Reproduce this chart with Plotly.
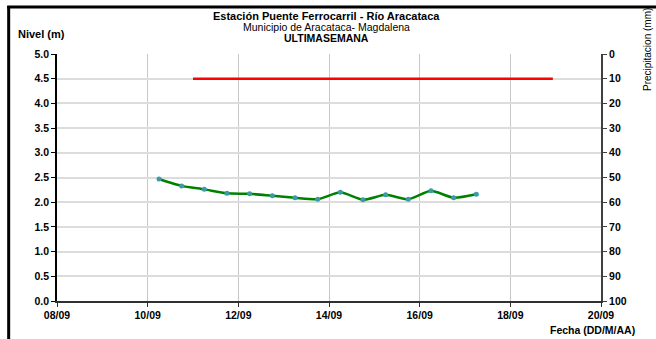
import plotly.graph_objects as go

# Nivel (m), cada 12 horas
fechas_nivel = [
    "2023-09-10 06:00", "2023-09-10 18:00", "2023-09-11 06:00", "2023-09-11 18:00",
    "2023-09-12 06:00", "2023-09-12 18:00", "2023-09-13 06:00", "2023-09-13 18:00",
    "2023-09-14 06:00", "2023-09-14 18:00", "2023-09-15 06:00", "2023-09-15 18:00",
    "2023-09-16 06:00", "2023-09-16 18:00", "2023-09-17 06:00",
]
nivel = [2.47, 2.33, 2.26, 2.18, 2.17, 2.13, 2.09, 2.06,
         2.20, 2.05, 2.15, 2.06, 2.23, 2.09, 2.16]

# Precipitacion (mm)
fechas_precip = ["2023-09-11 00:00", "2023-09-18 22:30"]
precip = [10, 10]

x_ticks = ["2023-09-08", "2023-09-10", "2023-09-12", "2023-09-14",
           "2023-09-16", "2023-09-18", "2023-09-20"]
x_labels = ["08/09", "10/09", "12/09", "14/09", "16/09", "18/09", "20/09"]

FONT = "Liberation Sans, Arial, sans-serif"

W, H = 656, 339
L, R, T, B = 57.3, 601, 54, 301.5   # plot area in pixels


def px(x):
    return (x - L) / (R - L)


def py(y):
    return (B - y) / (B - T)


def label(text, x, y, size, xanchor="center", **kw):
    return dict(text=text, x=px(x), y=py(y), xref="paper", yref="paper",
                xanchor=xanchor, yanchor="middle", showarrow=False,
                font=dict(size=size, family=FONT, color="#000000"), **kw)


fig = go.Figure()

fig.add_trace(go.Scatter(
    x=fechas_precip, y=precip, yaxis="y2", mode="lines",
    line=dict(color="#ff0000", width=2.5), showlegend=False,
))

fig.add_trace(go.Scatter(
    x=fechas_nivel, y=nivel, mode="lines+markers",
    line=dict(color="#008000", width=2.5, shape="spline", smoothing=0.6),
    marker=dict(color="#3a9ca6", size=5),
    showlegend=False,
))

tickfont = dict(family=FONT, size=10.5, color="#000000", weight="bold")

fig.update_layout(
    width=W, height=H,
    margin=dict(l=L, r=W - R, t=T, b=H - B, pad=0),
    paper_bgcolor="white", plot_bgcolor="white",
    font=dict(family=FONT, color="#000000"),
    xaxis=dict(
        type="date", range=["2023-09-08", "2023-09-20"],
        tickvals=x_ticks, ticktext=x_labels, tickfont=tickfont,
        showgrid=True, gridcolor="#c8c8c8", gridwidth=1,
        showline=True, linecolor="#303030", linewidth=1.5,
        ticks="outside", ticklen=4, tickcolor="#303030",
        zeroline=False,
    ),
    yaxis=dict(
        range=[0, 5], dtick=0.5, tickformat=".1f", tickfont=tickfont,
        showgrid=True, gridcolor="#dcdcdc", gridwidth=1.5,
        showline=True, linecolor="#000000", linewidth=1.5,
        ticks="outside", ticklen=4, tickcolor="#000000",
        zeroline=False,
    ),
    yaxis2=dict(
        range=[100, 0], dtick=10, tickfont=tickfont,
        overlaying="y", side="right", showgrid=False,
        showline=True, linecolor="#404040", linewidth=2,
        ticks="outside", ticklen=4, tickcolor="#404040",
        zeroline=False,
    ),
    annotations=[
        label("<b>Estación Puente Ferrocarril - Río Aracataca</b>", 327, 16, 11),
        label("Municipio de Aracataca- Magdalena", 327, 27, 10.5),
        label("<b>ULTIMASEMANA</b>", 327, 38, 10.5),
        label("<b>Nivel (m)</b>", 16, 34, 11, xanchor="left"),
        label("<b>Fecha (DD/M/AA)</b>", 637, 331, 10.5, xanchor="right"),
        label("Precipitacion (mm)", 647, 50, 10, textangle=-90),
    ],
    shapes=[
        # outer frame: left side
        dict(type="line", xref="paper", yref="paper",
             x0=px(9), y0=py(345), x1=px(9), y1=py(6),
             line=dict(color="#000000", width=3)),
        # outer frame: top side, as a thin filled band
        dict(type="rect", xref="x domain", yref="y domain",
             x0=px(7.5), x1=px(656), y0=py(8.5), y1=py(5.5),
             line=dict(width=0), fillcolor="#000000", layer="above"),
    ],
)

# drop the default 8px body margin so the figure fills the window
fig.write_html("out.html", config={"displayModeBar": False},
               post_script="document.body.style.margin='0px';")
